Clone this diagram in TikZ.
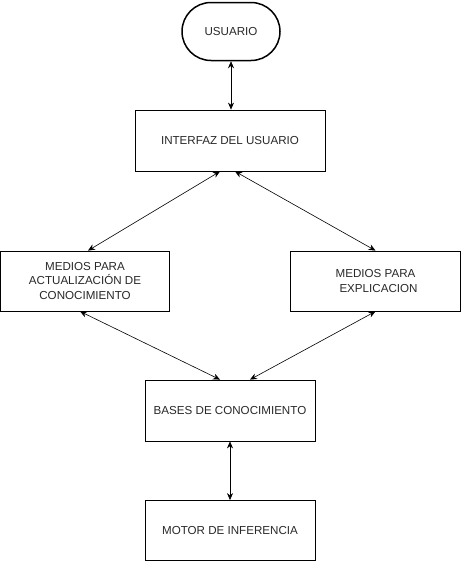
\documentclass[tikz,border=0pt]{standalone}
\usepackage{fontspec}
\setmainfont{Liberation Sans}
\usetikzlibrary{arrows.meta}
\definecolor{txt}{RGB}{40,40,40}

\begin{document}
\begin{tikzpicture}[x=1pt,y=-1pt,
  caja/.style={draw,thick,text=txt,align=center,inner sep=0pt,font=\fontsize{11.6}{14.5}\selectfont},
  flecha/.style={{Stealth[length=7pt,width=6pt]}-{Stealth[length=7pt,width=6pt]},semithick}]
  \useasboundingbox (0,0) rectangle (461,562);

  \node[caja,line width=1.5pt,rounded corners=29pt,minimum width=98pt,minimum height=58pt] (0) at (231,31.5) {USUARIO};

  \node[caja,minimum width=190pt,minimum height=61pt] (1) at (230,140.5) {INTERFAZ DEL USUARIO};

  \node[caja,minimum width=169pt,minimum height=60pt] (2) at (85,281) {MEDIOS PARA\\ACTUALIZACIÓN DE\\CONOCIMIENTO};
  \node[caja,minimum width=170pt,minimum height=60pt] (3) at (375.5,281) {MEDIOS PARA\\\hspace*{6pt}EXPLICACION};

  \node[caja,minimum width=170pt,minimum height=61pt] (4) at (230,410.5) {BASES DE CONOCIMIENTO};

  \node[caja,minimum width=170pt,minimum height=60pt] (5) at (230,530.5) {MOTOR DE INFERENCIA};

  \draw[flecha] (0) -- (0|-1.north);
  \draw[flecha] ([xshift=-10pt]1.south) -- ([xshift=3pt]2.north);
  \draw[flecha] ([xshift=5pt]1.south) -- (3.north);
  \draw[flecha] ([xshift=-5pt]2.south) -- ([xshift=-10pt]4.north);
  \draw[flecha] (3.south) -- ([xshift=20pt]4.north);
  \draw[flecha] (4) -- (5);
\end{tikzpicture}
\end{document}
